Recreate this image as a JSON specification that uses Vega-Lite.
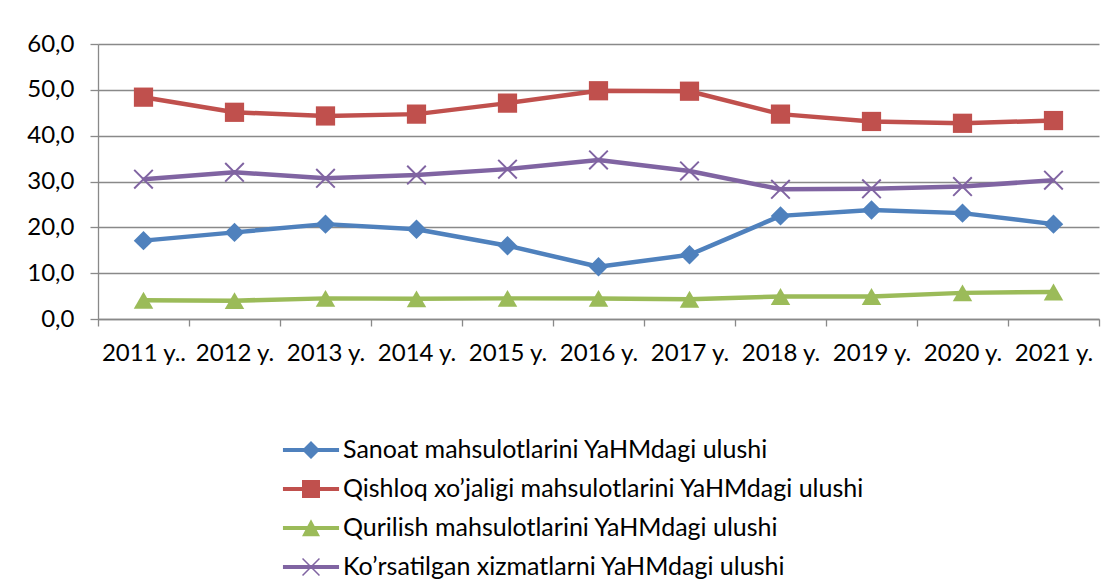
{
  "$schema": "https://vega.github.io/schema/vega-lite/v6.json",
  "width": 1001,
  "height": 275,
  "autosize": {"type": "none"},
  "padding": {"left": 98, "top": 44, "right": 18, "bottom": 263},
  "background": "white",
  "config": {
    "view": {"stroke": null},
    "font": "Lato",
    "axis": {
      "domainColor": "#898989",
      "domainWidth": 1.3,
      "tickColor": "#898989",
      "tickWidth": 1.3,
      "gridColor": "#898989",
      "gridWidth": 1.3,
      "labelColor": "#000000",
      "labelFont": "Lato",
      "labelFontSize": 24,
      "title": null
    }
  },
  "data": {
    "values": [
      {"year": "2011 y..", "series": "Sanoat mahsulotlarini YaHMdagi ulushi", "value": 17.1},
      {"year": "2012 y.", "series": "Sanoat mahsulotlarini YaHMdagi ulushi", "value": 18.9},
      {"year": "2013 y.", "series": "Sanoat mahsulotlarini YaHMdagi ulushi", "value": 20.7},
      {"year": "2014 y.", "series": "Sanoat mahsulotlarini YaHMdagi ulushi", "value": 19.6},
      {"year": "2015 y.", "series": "Sanoat mahsulotlarini YaHMdagi ulushi", "value": 16.0},
      {"year": "2016 y.", "series": "Sanoat mahsulotlarini YaHMdagi ulushi", "value": 11.4},
      {"year": "2017 y.", "series": "Sanoat mahsulotlarini YaHMdagi ulushi", "value": 14.0},
      {"year": "2018 y.", "series": "Sanoat mahsulotlarini YaHMdagi ulushi", "value": 22.5},
      {"year": "2019 y.", "series": "Sanoat mahsulotlarini YaHMdagi ulushi", "value": 23.8},
      {"year": "2020 y.", "series": "Sanoat mahsulotlarini YaHMdagi ulushi", "value": 23.1},
      {"year": "2021 y.", "series": "Sanoat mahsulotlarini YaHMdagi ulushi", "value": 20.7},
      {"year": "2011 y..", "series": "Qishloq xo’jaligi mahsulotlarini YaHMdagi ulushi", "value": 48.4},
      {"year": "2012 y.", "series": "Qishloq xo’jaligi mahsulotlarini YaHMdagi ulushi", "value": 45.1},
      {"year": "2013 y.", "series": "Qishloq xo’jaligi mahsulotlarini YaHMdagi ulushi", "value": 44.3},
      {"year": "2014 y.", "series": "Qishloq xo’jaligi mahsulotlarini YaHMdagi ulushi", "value": 44.7},
      {"year": "2015 y.", "series": "Qishloq xo’jaligi mahsulotlarini YaHMdagi ulushi", "value": 47.1},
      {"year": "2016 y.", "series": "Qishloq xo’jaligi mahsulotlarini YaHMdagi ulushi", "value": 49.8},
      {"year": "2017 y.", "series": "Qishloq xo’jaligi mahsulotlarini YaHMdagi ulushi", "value": 49.7},
      {"year": "2018 y.", "series": "Qishloq xo’jaligi mahsulotlarini YaHMdagi ulushi", "value": 44.7},
      {"year": "2019 y.", "series": "Qishloq xo’jaligi mahsulotlarini YaHMdagi ulushi", "value": 43.1},
      {"year": "2020 y.", "series": "Qishloq xo’jaligi mahsulotlarini YaHMdagi ulushi", "value": 42.7},
      {"year": "2021 y.", "series": "Qishloq xo’jaligi mahsulotlarini YaHMdagi ulushi", "value": 43.3},
      {"year": "2011 y..", "series": "Qurilish mahsulotlarini YaHMdagi ulushi", "value": 4.1},
      {"year": "2012 y.", "series": "Qurilish mahsulotlarini YaHMdagi ulushi", "value": 4.0},
      {"year": "2013 y.", "series": "Qurilish mahsulotlarini YaHMdagi ulushi", "value": 4.5},
      {"year": "2014 y.", "series": "Qurilish mahsulotlarini YaHMdagi ulushi", "value": 4.4},
      {"year": "2015 y.", "series": "Qurilish mahsulotlarini YaHMdagi ulushi", "value": 4.5},
      {"year": "2016 y.", "series": "Qurilish mahsulotlarini YaHMdagi ulushi", "value": 4.5},
      {"year": "2017 y.", "series": "Qurilish mahsulotlarini YaHMdagi ulushi", "value": 4.3},
      {"year": "2018 y.", "series": "Qurilish mahsulotlarini YaHMdagi ulushi", "value": 4.9},
      {"year": "2019 y.", "series": "Qurilish mahsulotlarini YaHMdagi ulushi", "value": 4.9},
      {"year": "2020 y.", "series": "Qurilish mahsulotlarini YaHMdagi ulushi", "value": 5.7},
      {"year": "2021 y.", "series": "Qurilish mahsulotlarini YaHMdagi ulushi", "value": 5.9},
      {"year": "2011 y..", "series": "Ko’rsatilgan xizmatlarni YaHMdagi ulushi", "value": 30.5},
      {"year": "2012 y.", "series": "Ko’rsatilgan xizmatlarni YaHMdagi ulushi", "value": 32.0},
      {"year": "2013 y.", "series": "Ko’rsatilgan xizmatlarni YaHMdagi ulushi", "value": 30.7},
      {"year": "2014 y.", "series": "Ko’rsatilgan xizmatlarni YaHMdagi ulushi", "value": 31.4},
      {"year": "2015 y.", "series": "Ko’rsatilgan xizmatlarni YaHMdagi ulushi", "value": 32.7},
      {"year": "2016 y.", "series": "Ko’rsatilgan xizmatlarni YaHMdagi ulushi", "value": 34.7},
      {"year": "2017 y.", "series": "Ko’rsatilgan xizmatlarni YaHMdagi ulushi", "value": 32.3},
      {"year": "2018 y.", "series": "Ko’rsatilgan xizmatlarni YaHMdagi ulushi", "value": 28.3},
      {"year": "2019 y.", "series": "Ko’rsatilgan xizmatlarni YaHMdagi ulushi", "value": 28.4},
      {"year": "2020 y.", "series": "Ko’rsatilgan xizmatlarni YaHMdagi ulushi", "value": 28.9},
      {"year": "2021 y.", "series": "Ko’rsatilgan xizmatlarni YaHMdagi ulushi", "value": 30.3}
    ]
  },
  "encoding": {
    "x": {
      "field": "year",
      "type": "ordinal",
      "sort": null,
      "bandPosition": 0.5,
      "scale": {"type": "band", "paddingInner": 0, "paddingOuter": 0},
      "axis": {
        "tickBand": "extent",
        "labelAngle": 0,
        "tickSize": 7,
        "labelPadding": 15,
        "grid": false
      }
    },
    "y": {
      "field": "value",
      "type": "quantitative",
      "scale": {"domain": [0, 60], "nice": false, "zero": true},
      "axis": {
        "values": [0, 10, 20, 30, 40, 50, 60],
        "grid": true,
        "tickSize": 8,
        "labelPadding": 16,
        "labelBaseline": "middle",
        "labelExpr": "replace(format(datum.value, '.1f'), '.', ',')"
      }
    }
  },
  "layer": [
    {
      "mark": {"type": "line", "strokeWidth": 4.5, "strokeJoin": "round"},
      "encoding": {
        "color": {
          "field": "series",
          "type": "nominal",
          "scale": {
            "domain": [
              "Sanoat mahsulotlarini YaHMdagi ulushi",
              "Qishloq xo’jaligi mahsulotlarini YaHMdagi ulushi",
              "Qurilish mahsulotlarini YaHMdagi ulushi",
              "Ko’rsatilgan xizmatlarni YaHMdagi ulushi"
            ],
            "range": ["#4F81BD", "#C0504D", "#9BBB59", "#8064A2"]
          },
          "legend": {
            "orient": "none",
            "legendX": 198,
            "legendY": 391,
            "title": null,
            "direction": "vertical",
            "padding": 0,
            "labelFont": "Lato",
            "labelFontSize": 25,
            "labelColor": "#000000",
            "labelLimit": 0,
            "labelOffset": 17,
            "symbolSize": 900,
            "rowPadding": 11,
            "encode": {
              "symbols": {
                "update": {
                  "shape": {"signal": "['M-1.87,-0.14H1.87V0.14H-1.87Z M0,-0.6L0.6,0L0,0.6L-0.6,0Z', 'M-1.87,-0.14H1.87V0.14H-1.87Z M-0.6,-0.6H0.6V0.6H-0.6Z', 'M-1.87,-0.14H1.87V0.14H-1.87Z M0,-0.58L0.6,0.55H-0.6Z', 'M-1.87,-0.14H1.87V0.14H-1.87Z M-0.6,-0.53L-0.53,-0.6L0.6,0.53L0.53,0.6Z M0.53,-0.6L0.6,-0.53L-0.53,0.6L-0.6,0.53Z'][indexof(domain('color'), datum.value)]"},
                  "fill": {"signal": "scale('color', datum.value)"},
                  "stroke": {"value": "transparent"},
                  "strokeWidth": {"value": 0},
                  "opacity": {"value": 1}
                }
              }
            }
          }
        }
      }
    },
    {
      "transform": [{"filter": "datum.series === 'Sanoat mahsulotlarini YaHMdagi ulushi'"}],
      "mark": {"type": "point", "filled": true, "size": 380, "opacity": 1, "strokeWidth": 0, "shape": "diamond", "color": "#4F81BD"}
    },
    {
      "transform": [{"filter": "datum.series === 'Qishloq xo’jaligi mahsulotlarini YaHMdagi ulushi'"}],
      "mark": {"type": "point", "filled": true, "size": 370, "opacity": 1, "strokeWidth": 0, "shape": "square", "color": "#C0504D"}
    },
    {
      "transform": [{"filter": "datum.series === 'Qurilish mahsulotlarini YaHMdagi ulushi'"}],
      "mark": {"type": "point", "filled": true, "size": 380, "opacity": 1, "strokeWidth": 0, "shape": "triangle-up", "color": "#9BBB59"}
    },
    {
      "transform": [{"filter": "datum.series === 'Ko’rsatilgan xizmatlarni YaHMdagi ulushi'"}],
      "mark": {"type": "point", "filled": true, "size": 400, "opacity": 1, "strokeWidth": 0, "shape": "M-1,-0.86L-0.86,-1L1,0.86L0.86,1Z M0.86,-1L1,-0.86L-0.86,1L-1,0.86Z", "color": "#8064A2"}
    }
  ]
}
